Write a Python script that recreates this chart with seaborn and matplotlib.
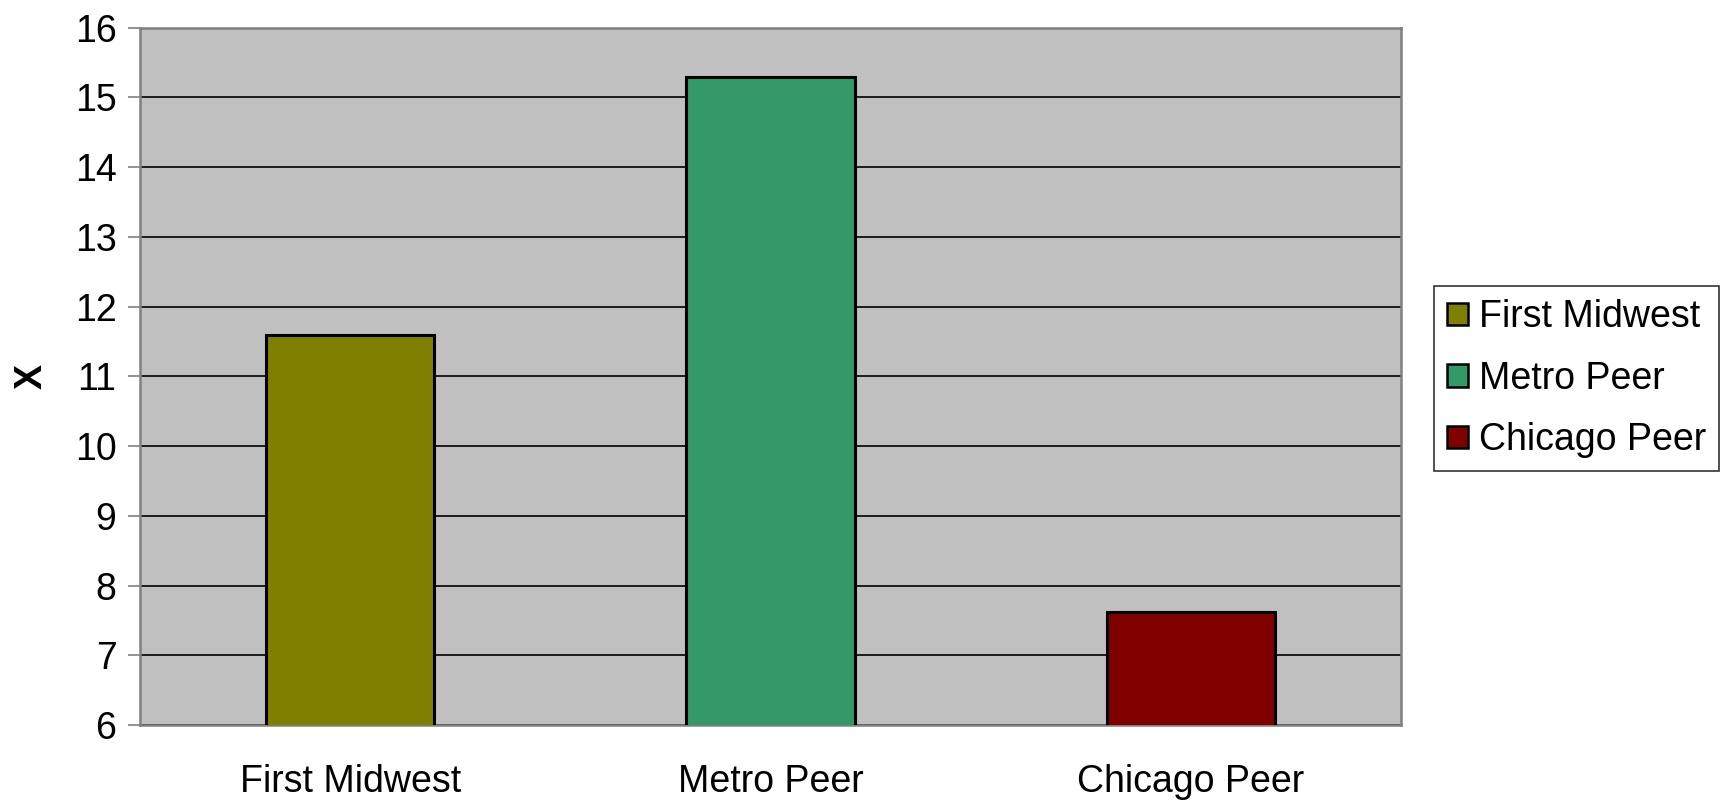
import matplotlib
matplotlib.use('Agg')
import matplotlib.pyplot as plt
import seaborn as sns
import pandas as pd

# data
groups = ['First Midwest', 'Metro Peer', 'Chicago Peer']
values = [11.6, 15.29, 7.62]
colors = ['#808000', '#339966', '#800000']

df = pd.DataFrame({'group': groups, 'value': values})

sns.set_style('white')
plt.rcParams['font.family'] = ['Liberation Sans', 'DejaVu Sans']
plt.rcParams['text.color'] = 'black'
plt.rcParams['xtick.color'] = 'black'
plt.rcParams['ytick.color'] = 'black'
plt.rcParams['axes.labelcolor'] = 'black'

fig = plt.figure(figsize=(17.23, 8.01), dpi=100)
ax = fig.add_axes([140 / 1723, 1 - 725 / 801, (1401 - 140) / 1723, (725 - 27.7) / 801])
ax.set_facecolor('#C0C0C0')

sns.barplot(data=df, x='group', y='value', hue='group', palette=colors,
            saturation=1, dodge=False, width=0.4, edgecolor='black', linewidth=2.2,
            legend=False, ax=ax, zorder=3)

ax.set_ylim(6, 16)
ax.set_xlim(-0.5, 2.5)
ax.set_yticks(range(6, 17))
ax.yaxis.grid(True, color='black', linewidth=1.2, zorder=0)
ax.set_axisbelow(True)

# category labels centred, tick marks on boundaries
ax.set_xticks([0, 1, 2])
ax.set_xticklabels(groups)
ax.set_xticks([-0.5, 0.5, 1.5, 2.5], minor=True)
ax.tick_params(axis='x', which='major', length=0, pad=28, labelsize=27)
ax.tick_params(axis='x', which='minor', length=9, width=1.2, color='#808080', direction='out')
ax.tick_params(axis='y', length=9, width=1.2, color='#808080', labelcolor='black',
               labelsize=27, pad=8, left=True)

for side in ['left', 'bottom', 'top', 'right']:
    ax.spines[side].set_color('#808080')
    ax.spines[side].set_linewidth(1.8)

ax.set_xlabel('')
ax.set_ylabel('X', fontsize=27, fontweight='bold', labelpad=18)

handles = [plt.Rectangle((0, 0), 1, 1, facecolor=c, edgecolor='black', linewidth=1.8) for c in colors]
leg = fig.legend(handles, groups, loc='upper left', bbox_to_anchor=(1434 / 1723, 1 - 286 / 801),
                 fontsize=27, frameon=True, fancybox=False, handlelength=0.55, handleheight=0.55,
                 handletextpad=0.3, borderpad=0.35, labelspacing=0.68, borderaxespad=0)
leg.get_frame().set_edgecolor('black')
leg.get_frame().set_linewidth(1.2)

fig.savefig('out.png', dpi=100)
plt.close()
